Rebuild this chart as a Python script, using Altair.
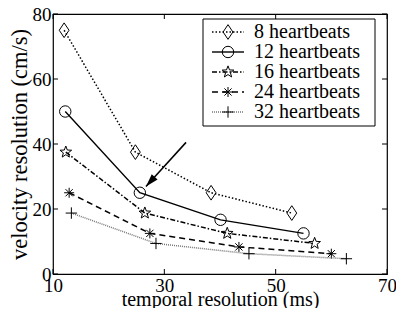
import math
import altair as alt
import pandas as pd

# ---- data ----
series = ["8 heartbeats", "12 heartbeats", "16 heartbeats", "24 heartbeats", "32 heartbeats"]
t_8 = [12.0, 24.8, 38.4, 52.9]
v_8 = [75.0, 37.5, 25.0, 18.75]
t_12 = [12.2, 25.6, 40.1, 55.0]
v_12 = [50.0, 25.0, 16.67, 12.5]
t_16 = [12.3, 26.5, 41.3, 57.0]
v_16 = [37.5, 18.75, 12.5, 9.4]
t_24 = [12.9, 27.4, 43.4, 60.0]
v_24 = [25.0, 12.5, 8.33, 6.25]
t_32 = [13.3, 28.5, 45.2, 62.7]
v_32 = [18.75, 9.4, 6.25, 4.7]

x_ticks = [10, 30, 50, 70]
y_ticks = [0, 20, 40, 60, 80]

arrow_t = [33.9, 26.7]
arrow_v = [40.5, 26.9]

# ---- styles ----
FONT = "Liberation Serif, Times New Roman, serif"
W, H = 334, 260


def star_path(n=5, r_out=1.0, r_in=0.42):
    pts = []
    for k in range(2 * n):
        r = r_out if k % 2 == 0 else r_in
        a = math.radians(-90 + k * 180 / n)
        pts.append((r * math.cos(a), r * math.sin(a)))
    return "M" + "L".join(f"{x:.3f},{y:.3f}" for x, y in pts) + "Z"


SHAPES = {
    "8 heartbeats": ("M0,-1.2L0.8,0L0,1.2L-0.8,0Z", 150),
    "12 heartbeats": ("circle", 130),
    "16 heartbeats": (star_path(), 150),
    "24 heartbeats": ("M-1,0L1,0M0,-1L0,1M-0.72,-0.72L0.72,0.72M-0.72,0.72L0.72,-0.72", 100),
    "32 heartbeats": ("M-1,0L1,0M0,-1L0,1", 130),
}
LINES = {
    "8 heartbeats": dict(color="black", strokeWidth=1.5, strokeDash=[1.5, 2]),
    "12 heartbeats": dict(color="black", strokeWidth=1.4),
    "16 heartbeats": dict(color="black", strokeWidth=1.5, strokeDash=[5, 2, 1.5, 2]),
    "24 heartbeats": dict(color="black", strokeWidth=1.5, strokeDash=[6, 4]),
    "32 heartbeats": dict(color="#777777", strokeWidth=1.5, strokeDash=[1, 1]),
}
DATA = {
    "8 heartbeats": (t_8, v_8),
    "12 heartbeats": (t_12, v_12),
    "16 heartbeats": (t_16, v_16),
    "24 heartbeats": (t_24, v_24),
    "32 heartbeats": (t_32, v_32),
}

xscale = alt.Scale(domain=[10, 70], nice=False, zero=False)
yscale = alt.Scale(domain=[0, 80], nice=False, zero=False)

x_axis = alt.Axis(values=x_ticks, grid=False, ticks=False, domain=False, tickSize=0,
                  labelFont=FONT, labelFontSize=19, labelColor="black", labelPadding=2,
                  labelFlush=False, labelOverlap=False,
                  title="temporal resolution (ms)", titleFont=FONT, titleFontSize=20,
                  titleFontWeight="normal", titleColor="black", titlePadding=-6)
y_axis = alt.Axis(values=y_ticks, grid=False, ticks=False, domain=False, tickSize=0,
                  labelFont=FONT, labelFontSize=19, labelColor="black", labelPadding=2,
                  labelFlush=False, labelOverlap=False,
                  title="velocity resolution (cm/s)", titleFont=FONT, titleFontSize=22.5,
                  titleFontWeight="normal", titleColor="black", titlePadding=1)


def X(field):
    return alt.X(field, scale=xscale, axis=x_axis)


def Y(field):
    return alt.Y(field, scale=yscale, axis=y_axis)


layers = []

# inward tick marks on all four sides
xt = pd.DataFrame({"t": x_ticks})
yt = pd.DataFrame({"v": y_ticks})
layers.append(alt.Chart(xt).mark_rule(color="black", strokeWidth=1).encode(
    x=X("t:Q"), y=alt.value(H), y2=alt.value(H - 5)))
layers.append(alt.Chart(xt).mark_rule(color="black", strokeWidth=1).encode(
    x=X("t:Q"), y=alt.value(0), y2=alt.value(5)))
layers.append(alt.Chart(yt).mark_rule(color="black", strokeWidth=1).encode(
    y=Y("v:Q"), x=alt.value(0), x2=alt.value(5)))
layers.append(alt.Chart(yt).mark_rule(color="black", strokeWidth=1).encode(
    y=Y("v:Q"), x=alt.value(W), x2=alt.value(W - 5)))

# series lines + markers
for name in series:
    ts, vs = DATA[name]
    df = pd.DataFrame({"t": ts, "v": vs, "series": name})
    shape, size = SHAPES[name]
    layers.append(alt.Chart(df).mark_line(**LINES[name]).encode(x=X("t:Q"), y=Y("v:Q")))
    layers.append(alt.Chart(df).mark_point(shape=shape, size=size, filled=False,
                                           stroke="black", strokeWidth=1, opacity=1).encode(
        x=X("t:Q"), y=Y("v:Q")))

# arrow annotation
adf = pd.DataFrame({"t": [arrow_t[0]], "v": [arrow_v[0]], "t2": [arrow_t[1]], "v2": [arrow_v[1]]})
layers.append(alt.Chart(adf).mark_rule(color="black", strokeWidth=1.5).encode(
    x=X("t:Q"), y=Y("v:Q"), x2="t2:Q", y2="v2:Q"))
layers.append(alt.Chart(adf).mark_point(shape="M0,0L-0.6,2L0.6,2Z", size=169, filled=True,
                                        color="black", opacity=1, angle=222).encode(
    x=X("t2:Q"), y=Y("v2:Q")))

# legend box (positions relative to the plot's right edge)
LX0, LX1, LY0, LY1 = W - 184, W - 12, 5, 112
layers.append(alt.Chart(pd.DataFrame({"a": [0]})).mark_rect(
    fill="white", stroke="black", strokeWidth=1).encode(
    x=alt.value(LX0), x2=alt.value(LX1), y=alt.value(LY0), y2=alt.value(LY1)))
for i, name in enumerate(series):
    yy = 18 + 20 * i
    ldf = pd.DataFrame({"label": [name]})
    shape, size = SHAPES[name]
    layers.append(alt.Chart(ldf).mark_rule(**LINES[name]).encode(
        x=alt.value(LX0 + 9), x2=alt.value(LX0 + 41), y=alt.value(yy)))
    layers.append(alt.Chart(ldf).mark_point(shape=shape, size=size, filled=False,
                                            stroke="black", strokeWidth=1, opacity=1).encode(
        x=alt.value(LX0 + 25), y=alt.value(yy)))
    layers.append(alt.Chart(ldf).mark_text(align="left", baseline="middle", font=FONT,
                                           fontSize=20, color="black").encode(
        x=alt.value(LX0 + 51), y=alt.value(yy), text="label:N"))

chart = alt.layer(*layers).properties(
    width=W, height=H,
    background="white",
    autosize=alt.AutoSizeParams(type="none"),
    padding={"left": 45, "top": 6, "right": 9, "bottom": 34},
).configure_view(stroke="black", strokeWidth=1.2)

chart.save("out.html", embed_options={"renderer": "svg", "actions": False})
